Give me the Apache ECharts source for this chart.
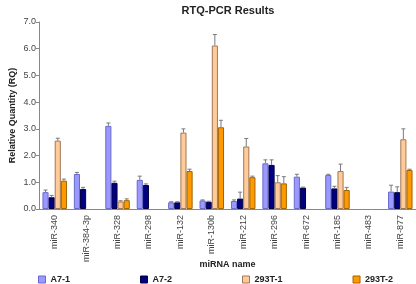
<!DOCTYPE html>
<html><head><meta charset="utf-8">
<script src="https://cdn.jsdelivr.net/npm/echarts@6/dist/echarts.min.js"></script>
<style>html,body{margin:0;padding:0;background:#fff}#c{width:416px;height:284px}</style>
</head><body><div id="c"></div>
<script>
var categories = ['miR-340','miR-384-3p','miR-328','miR-298','miR-132','miR-130b','miR-212','miR-296','miR-672','miR-185','miR-483','miR-877'];
var seriesNames = ['A7-1','A7-2','293T-1','293T-2'];
var a71 = [0.63,1.31,3.11,1.09,0.25,0.32,0.30,1.71,1.21,1.27,null,0.65];
var a72 = [0.44,0.75,0.98,0.90,0.25,0.27,0.39,1.65,0.80,0.77,null,0.63];
var t1  = [2.56,null,0.28,null,2.86,6.12,2.34,1.00,null,1.42,null,2.61];
var t2  = [1.06,null,0.33,null,1.42,3.06,1.19,0.96,null,0.71,null,1.46];
var a71Err = [0.08,0.06,0.11,0.14,0.02,0.02,0.04,0.13,0.09,0.03,null,0.24];
var a72Err = [0.07,0.06,0.06,0.04,0.02,0.02,0.24,0.19,0.02,0.08,null,0.20];
var t1Err  = [0.09,null,0.03,null,0.14,0.41,0.30,0.25,null,0.26,null,0.39];
var t2Err  = [0.06,null,0.05,null,0.07,0.26,0.04,0.25,null,0.10,null,0.03];
var yTicks = [0,1,2,3,4,5,6,7];

var values = [a71,a72,t1,t2];
var errs = [a71Err,a72Err,t1Err,t2Err];
var colors = ['#9999ff','#000080','#ffcc99','#ff9900'];
var borders = ['#6a6acc','#000040','#a07858','#a06400'];
var catGap = 0.22;
var font = 'Liberation Sans, Arial, sans-serif';

var series = [];
values.forEach(function(v,i){
  series.push({
    name: seriesNames[i], type:'bar', data: v.map(function(x){return x==null?'-':x;}),
    barGap:'0%', barCategoryGap: (catGap*100)+'%',
    itemStyle:{color:colors[i], borderColor:borders[i], borderWidth:1},
    z:2
  });
});
values.forEach(function(v,i){
  var data = [];
  v.forEach(function(x,k){ if(x!=null && errs[i][k]!=null) data.push([k,x,x+errs[i][k]]); });
  series.push({
    type:'custom', name:'err'+i, z:3, silent:true,
    renderItem:function(params,api){
      var k = api.value(0);
      var W = api.size([1,0])[0];
      var bw = W*(1-catGap)/4;
      var off = -W*(1-catGap)/2 + bw*(i+0.5);
      var p0 = api.coord([k,api.value(1)]);
      var p1 = api.coord([k,api.value(2)]);
      var x = p0[0]+off;
      var s = {stroke:'#7a7a7a', lineWidth:1};
      return {type:'group', children:[
        {type:'line', shape:{x1:x,y1:p0[1],x2:x,y2:p1[1]}, style:s},
        {type:'line', shape:{x1:x-2,y1:p1[1],x2:x+2,y2:p1[1]}, style:s}
      ]};
    },
    data:data
  });
});

var chart = echarts.init(document.getElementById('c'));
chart.setOption({
  animation:false,
  textStyle:{fontFamily:font},
  title:{text:'RTQ-PCR Results', left:223, top:0, textAlign:'center',
    textStyle:{fontFamily:font, fontSize:11, fontWeight:'bold', color:'#222'}},
  legend:{data:seriesNames, left:38, top:275, padding:0, itemGap:70, itemWidth:7, itemHeight:7,
    icon:'rect', textStyle:{fontFamily:font, fontSize:9, fontWeight:'bold', color:'#222'}, itemStyle:{borderWidth:1}},
  grid:{left:33, right:0, top:22, bottom:75},
  xAxis:{type:'category', data:categories, boundaryGap:true,
    name:'miRNA name', nameLocation:'middle', nameGap:51, nameMoveOverlap:false,
    nameTextStyle:{fontFamily:font, fontSize:9, fontWeight:'bold', color:'#222'},
    axisLine:{lineStyle:{color:'#888'}},
    axisTick:{alignWithLabel:false, length:4, lineStyle:{color:'#888'}},
    axisLabel:{rotate:90, fontSize:9, color:'#444', margin:6, interval:0, fontFamily:font}},
  yAxis:{type:'value', min:yTicks[0], max:yTicks[yTicks.length-1], interval:1,
    name:'Relative Quantity (RQ)', nameLocation:'middle', nameGap:22, nameRotate:90, nameMoveOverlap:false,
    nameTextStyle:{fontFamily:font, fontSize:9, fontWeight:'bold', color:'#222'},
    axisLine:{show:true, lineStyle:{color:'#888'}},
    axisTick:{show:true, length:3, lineStyle:{color:'#888'}},
    splitLine:{show:false},
    axisLabel:{fontSize:9, color:'#444', margin:3, fontFamily:font, formatter:function(v){return v.toFixed(1);}}},
  series:series
});
</script></body></html>
